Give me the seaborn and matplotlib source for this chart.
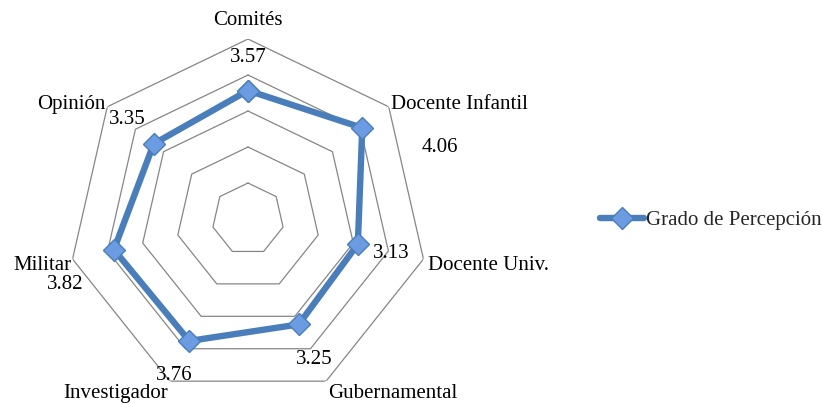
import numpy as np
import pandas as pd
import matplotlib
matplotlib.use("Agg")
import matplotlib.pyplot as plt
import seaborn as sns

# ---- data ----
categories = ["Comités", "Docente Infantil", "Docente Univ.", "Gubernamental",
              "Investigador", "Militar", "Opinión"]
values = [3.57, 4.06, 3.13, 3.25, 3.76, 3.82, 3.35]
value_labels = ["3.57", "4.06", "3.13", "3.25", "3.76", "3.82", "3.35"]
ring_levels = [1, 2, 3, 4, 5]
series_name = "Grado de Percepción"

# ---- style ----
sns.set_theme(style="white")
plt.rcParams["font.family"] = ["Liberation Serif", "DejaVu Serif"]
FS = 15
LINE_COLOR = "#4a7ebb"
MARKER_FILL = "#6b9be0"
GRID_COLOR = "#868686"

# label offsets (points) and alignments
cat_offsets = [(0, 13.5), (2, 2), (3, -4.3), (1.4, -8.6), (-1.4, -8.6), (-1, -4.3), (-1.5, 2)]
cat_align = [("center", "center"), ("left", "center"), ("left", "center"), ("left", "center"),
             ("right", "center"), ("right", "center"), ("right", "center")]
val_offsets = [(0, 23.8), (56.2, -14.4), (23.8, -6.5), (10.8, -25.2),
               (-10.8, -25.2), (-35.3, -25.2), (-18.7, 17.3)]

fig = plt.figure(figsize=(8.22, 4.04), dpi=100)
ax = fig.add_axes([0.0827, 0.0124, 0.438, 0.891], projection="polar")
ax.set_theta_offset(np.pi / 2)
ax.set_theta_direction(-1)

n = len(categories)
theta = np.arange(n) * 2 * np.pi / n
theta_closed = np.append(theta, 2 * np.pi)

# grid rings (heptagons)
for lvl in ring_levels:
    ax.plot(theta_closed, [lvl] * (n + 1), color=GRID_COLOR, lw=0.9, zorder=1)

df = pd.DataFrame({
    "theta": theta_closed,
    "value": values + [values[0]],
})
sns.lineplot(data=df, x="theta", y="value", sort=False, ax=ax,
             color=LINE_COLOR, lw=4.6, marker="D", markersize=11.5,
             markerfacecolor=MARKER_FILL, markeredgecolor=LINE_COLOR,
             markeredgewidth=1.0, label=series_name, zorder=3)

handles, labels = ax.get_legend_handles_labels()
if ax.get_legend() is not None:
    ax.get_legend().remove()

ax.set_ylim(0, 5)
ax.grid(False)
ax.spines["polar"].set_visible(False)
ax.set_xticks([])
ax.set_yticks([])
ax.set_xlabel("")
ax.set_ylabel("")
ax.patch.set_alpha(0)

for i, cat in enumerate(categories):
    ha, va = cat_align[i]
    ax.annotate(cat, xy=(theta[i], ring_levels[-1]), xytext=cat_offsets[i],
                textcoords="offset points", ha=ha, va=va, fontsize=FS,
                color="black", annotation_clip=False)

for i, lab in enumerate(value_labels):
    ax.annotate(lab, xy=(theta[i], values[i]), xytext=val_offsets[i],
                textcoords="offset points", ha="center", va="center",
                fontsize=FS, color="black", annotation_clip=False)

fig.legend(handles, labels, loc="center left", bbox_to_anchor=(0.730, 0.4554),
           frameon=False, fontsize=FS, handlelength=2.1, handletextpad=0.1,
           borderpad=0, borderaxespad=0)

fig.savefig("out.png", dpi=100)
